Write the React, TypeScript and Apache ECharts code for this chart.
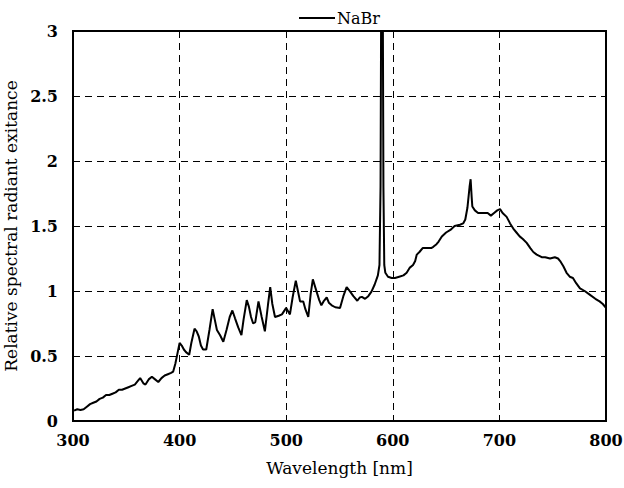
import React, { useEffect, useRef } from "react";
import * as echarts from "echarts";

const wavelengths = [
  301, 304, 307, 310, 313, 316, 319, 322, 325, 328, 331, 334, 337, 340, 343, 346, 349, 352, 355, 358,
  361, 363, 366, 368, 371, 374, 377, 380, 383, 386, 389, 392, 394, 396, 398, 400, 402, 404, 406, 409,
  411, 414, 416, 418, 420, 422, 425, 428, 431, 433, 435, 438, 441, 444, 447, 449.5, 452, 455, 458, 460,
  463, 465, 467, 469, 471, 474, 477, 480, 483, 485, 487, 489.5, 493, 496, 500, 503.5, 506, 509, 511, 513,
  516, 518, 520.7, 523, 525, 528.5, 531, 533, 535, 538, 540, 542.7, 546, 550.5, 553.6, 556.7, 560, 563, 566.7, 569,
  571, 574, 577, 580, 583, 586, 587.5, 588.5, 589.2, 590.5, 591.2, 592, 593, 595.5, 599, 602, 606, 610, 613, 616,
  619, 621, 622.5, 625, 628, 632, 636, 638, 641, 643, 646, 650, 654, 658, 663, 666, 668, 670, 672, 673,
  674, 674.6, 677, 680, 683, 686, 689, 692, 695, 698, 700.6, 703, 706.8, 710, 713, 716, 719, 722, 725.6, 729,
  731.8, 735, 739.7, 743, 747.5, 752, 755, 757, 760, 763, 766, 769, 772, 775.6, 780, 785, 790, 794, 797, 800,
];

const nabrValues = [
  0.08, 0.09, 0.085, 0.09, 0.11, 0.13, 0.14, 0.15, 0.17, 0.18, 0.2, 0.2, 0.21, 0.22, 0.24, 0.24, 0.25, 0.26, 0.27, 0.28,
  0.31, 0.33, 0.29, 0.28, 0.32, 0.34, 0.32, 0.3, 0.33, 0.35, 0.36, 0.37, 0.38, 0.44, 0.52, 0.6, 0.58, 0.55, 0.53, 0.51,
  0.6, 0.71, 0.69, 0.65, 0.58, 0.55, 0.55, 0.7, 0.86, 0.78, 0.7, 0.66, 0.61, 0.7, 0.8, 0.85, 0.79, 0.72, 0.66, 0.78,
  0.93, 0.88, 0.8, 0.75, 0.76, 0.92, 0.8, 0.69, 0.9, 1.03, 0.9, 0.8, 0.81, 0.82, 0.87, 0.82, 0.95, 1.08, 1.0, 0.92,
  0.92, 0.86, 0.8, 0.98, 1.09, 0.995, 0.93, 0.89, 0.92, 0.95, 0.91, 0.89, 0.875, 0.87, 0.96, 1.03, 0.995, 0.96, 0.925, 0.95,
  0.955, 0.94, 0.96, 0.995, 1.05, 1.12, 1.2, 1.8, 3.5, 3.5, 1.8, 1.2, 1.14, 1.11, 1.1, 1.1, 1.11, 1.12, 1.14, 1.18,
  1.2, 1.23, 1.28, 1.3, 1.33, 1.33, 1.33, 1.34, 1.36, 1.38, 1.42, 1.45, 1.47, 1.5, 1.51, 1.52, 1.55, 1.64, 1.8, 1.86,
  1.72, 1.65, 1.62, 1.6, 1.6, 1.6, 1.6, 1.58, 1.6, 1.62, 1.63, 1.6, 1.57, 1.52, 1.48, 1.45, 1.42, 1.4, 1.37, 1.33,
  1.3, 1.28, 1.26, 1.26, 1.25, 1.26, 1.25, 1.23, 1.19, 1.14, 1.11, 1.1, 1.06, 1.02, 1.0, 0.97, 0.94, 0.92, 0.9, 0.87,
];

const seriesName = "NaBr";
const xTitle = "Wavelength [nm]";
const yTitle = "Relative spectral radiant exitance";

export default function App() {
  const ref = useRef<HTMLDivElement>(null);
  useEffect(() => {
    if (!ref.current) return;
    const chart = echarts.init(ref.current, null, { renderer: "svg" });
    const serif = "DejaVu Serif";
    const data = wavelengths.map((w, i) => [w, nabrValues[i]]);
    chart.setOption({
      animation: false,
      backgroundColor: "#fff",
      grid: {
        left: 73,
        right: 18,
        top: 31,
        bottom: 67,
        outerBoundsMode: "none",
        containLabel: false,
        show: true,
        borderColor: "#000",
        borderWidth: 2,
        backgroundColor: "transparent",
      },
      legend: {
        data: [seriesName],
        top: 5,
        left: 294,
        icon: "rect",
        itemWidth: 36,
        itemHeight: 2,
        itemGap: 4,
        itemStyle: { color: "#000" },
        textStyle: { fontFamily: serif, fontSize: 16, color: "#000", padding: [0, 0, 0, -3] },
      },
      xAxis: {
        type: "value",
        min: 300,
        max: 800,
        interval: 100,
        name: xTitle,
        nameLocation: "middle",
        nameGap: 38,
        nameTextStyle: { fontFamily: serif, fontSize: 17, color: "#000" },
        axisLine: { show: true, lineStyle: { color: "#000", width: 2 } },
        axisTick: { show: false },
        axisLabel: { fontFamily: serif, fontSize: 16, fontWeight: "bold", color: "#000", margin: 11 },
        splitLine: { show: true, lineStyle: { color: "#000", width: 1, type: [7, 5] } },
      },
      yAxis: {
        type: "value",
        min: 0,
        max: 3,
        interval: 0.5,
        name: yTitle,
        nameLocation: "middle",
        nameGap: 44,
        nameTextStyle: { fontFamily: serif, fontSize: 17, color: "#000" },
        axisLine: { show: true, lineStyle: { color: "#000", width: 2 } },
        axisTick: { show: false },
        axisLabel: { fontFamily: serif, fontSize: 16, fontWeight: "bold", color: "#000", margin: 15 },
        splitLine: { show: true, lineStyle: { color: "#000", width: 1, type: [7, 5] } },
      },
      series: [
        {
          name: seriesName,
          type: "line",
          data,
          symbol: "none",
          showSymbol: false,
          clip: true,
          lineStyle: { color: "#000", width: 2 },
          itemStyle: { color: "#000" },
        },
      ],
    });
    return () => chart.dispose();
  }, []);
  return (
    <div
      ref={ref}
      style={{ position: "absolute", left: 0, top: 0, width: 624, height: 488 }}
    />
  );
}
